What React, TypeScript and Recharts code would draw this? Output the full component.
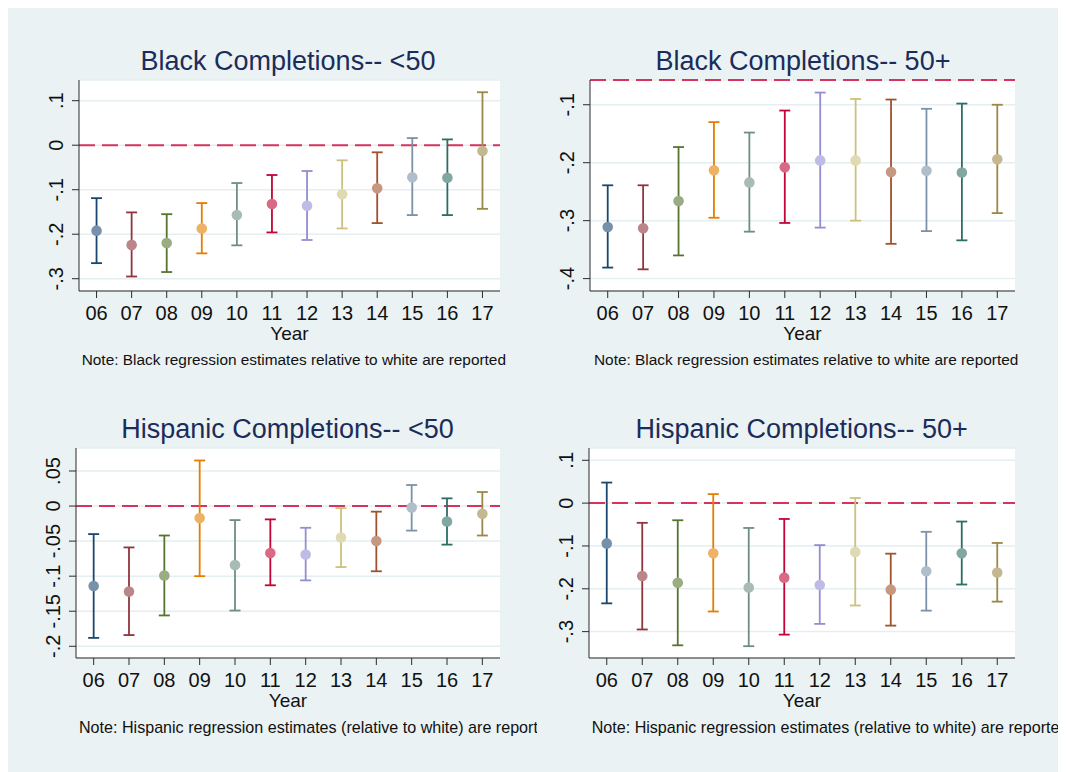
import React from 'react';
import { ComposedChart, Scatter, ErrorBar, XAxis, YAxis, CartesianGrid, ReferenceLine } from 'recharts';

// years on the x axis and their labels
const years = [6, 7, 8, 9, 10, 11, 12, 13, 14, 15, 16, 17];
const yearLabels = ['06', '07', '08', '09', '10', '11', '12', '13', '14', '15', '16', '17'];

// Black completions, <50
const blackU50Est = [-0.192, -0.224, -0.22, -0.187, -0.157, -0.132, -0.136, -0.11, -0.097, -0.072, -0.073, -0.013];
const blackU50Lo = [-0.265, -0.295, -0.285, -0.243, -0.225, -0.196, -0.213, -0.187, -0.175, -0.157, -0.157, -0.143];
const blackU50Hi = [-0.119, -0.151, -0.155, -0.13, -0.085, -0.067, -0.058, -0.034, -0.016, 0.016, 0.013, 0.119];

// Black completions, 50+
const black50Est = [-0.311, -0.313, -0.266, -0.213, -0.234, -0.208, -0.196, -0.196, -0.216, -0.214, -0.217, -0.194];
const black50Lo = [-0.381, -0.384, -0.36, -0.295, -0.319, -0.304, -0.312, -0.3, -0.34, -0.318, -0.334, -0.287];
const black50Hi = [-0.239, -0.239, -0.173, -0.13, -0.148, -0.11, -0.079, -0.09, -0.091, -0.107, -0.098, -0.1];

// Hispanic completions, <50
const hispU50Est = [-0.114, -0.122, -0.099, -0.017, -0.084, -0.067, -0.069, -0.045, -0.05, -0.002, -0.022, -0.011];
const hispU50Lo = [-0.188, -0.184, -0.156, -0.1, -0.149, -0.113, -0.106, -0.087, -0.093, -0.035, -0.055, -0.042];
const hispU50Hi = [-0.04, -0.059, -0.042, 0.065, -0.02, -0.019, -0.031, -0.003, -0.008, 0.03, 0.011, 0.02];

// Hispanic completions, 50+
const hisp50Est = [-0.094, -0.17, -0.186, -0.117, -0.197, -0.174, -0.191, -0.114, -0.202, -0.159, -0.117, -0.162];
const hisp50Lo = [-0.234, -0.295, -0.332, -0.253, -0.334, -0.307, -0.282, -0.239, -0.286, -0.251, -0.19, -0.23];
const hisp50Hi = [0.048, -0.046, -0.04, 0.021, -0.058, -0.037, -0.098, 0.012, -0.118, -0.067, -0.043, -0.093];

// Stata s2color palette
const colors = ['#1a476f', '#90353b', '#55752f', '#e37e00', '#6e8e84', '#c10534', '#938dd2', '#cac27e', '#a0522d', '#7b92a8', '#2d6d66', '#9c8847'];

const FONT = '"Liberation Sans", Arial, Helvetica, sans-serif';
const TITLE = '#1c2c5a';
const AXIS = '#2b2b2b';

const tint = (hex: string, a: number) => {
  const n = parseInt(hex.slice(1), 16);
  const mix = (c: number) => Math.round(c * a + 255 * (1 - a));
  return `rgb(${mix((n >> 16) & 255)},${mix((n >> 8) & 255)},${mix(n & 255)})`;
};

const fmtY = (v: number) => (v === 0 ? '0' : (v < 0 ? '-' : '') + String(Math.abs(v)).replace(/^0/, ''));

const panels = [
  {
    title: 'Black Completions-- <50',
    note: 'Note: Black regression estimates relative to white are reported',
    est: blackU50Est, lo: blackU50Lo, hi: blackU50Hi,
    yTicks: [-0.3, -0.2, -0.1, 0, 0.1], yDomain: [-0.3276, 0.1465],
    plot: { l: 71, r: 492, t: 72, b: 283 },
    titleX: 280, titleY: 62, noteX: 73.7, noteY: 357, noteSize: 15.4, noteClip: 1055,
  },
  {
    title: 'Black Completions-- 50+',
    note: 'Note: Black regression estimates relative to white are reported',
    est: black50Est, lo: black50Lo, hi: black50Hi,
    yTicks: [-0.4, -0.3, -0.2, -0.1], yDomain: [-0.4214, -0.0573],
    plot: { l: 582, r: 1007, t: 72, b: 283 },
    titleX: 795, titleY: 62, noteX: 586, noteY: 357, noteSize: 15.4, noteClip: 1055,
  },
  {
    title: 'Hispanic Completions-- <50',
    note: 'Note: Hispanic regression estimates (relative to white) are reported',
    est: hispU50Est, lo: hispU50Lo, hi: hispU50Hi,
    yTicks: [-0.2, -0.15, -0.1, -0.05, 0, 0.05], yDomain: [-0.2167, 0.0828],
    plot: { l: 68, r: 492, t: 440, b: 650 },
    titleX: 279.5, titleY: 430, noteX: 71, noteY: 725, noteSize: 16.1, noteClip: 529,
  },
  {
    title: 'Hispanic Completions-- 50+',
    note: 'Note: Hispanic regression estimates (relative to white) are reported',
    est: hisp50Est, lo: hisp50Lo, hi: hisp50Hi,
    yTicks: [-0.3, -0.2, -0.1, 0, 0.1], yDomain: [-0.3616, 0.1287],
    plot: { l: 581, r: 1007, t: 440, b: 650 },
    titleX: 793.7, titleY: 430, noteX: 583.7, noteY: 725, noteSize: 16.1, noteClip: 1055,
  },
];

const XTick = (props: any) => {
  const { x, y, payload } = props;
  const idx = years.indexOf(payload.value);
  return (
    <text x={x} y={y} dy={21.5} textAnchor="middle" fontSize={20} fontFamily={FONT} fill="#111">
      {yearLabels[idx]}
    </text>
  );
};

const YTick = (props: any) => {
  const { x, y, payload } = props;
  return (
    <text transform={`translate(${x - 9},${y}) rotate(-90)`} textAnchor="middle" fontSize={20} fontFamily={FONT} fill="#111">
      {fmtY(payload.value)}
    </text>
  );
};

const YAXIS_W = 60;
const XAXIS_H = 45;
const MT = 10;
const MR = 10;

const Panel = ({ p }: { p: (typeof panels)[number] }) => {
  const w = p.plot.r - p.plot.l + YAXIS_W + MR;
  const h = p.plot.b - p.plot.t + MT + XAXIS_H;
  const refY = Math.min(0, p.yDomain[1]);
  return (
    <div style={{ position: 'absolute', left: p.plot.l - YAXIS_W, top: p.plot.t - MT }}>
      <ComposedChart width={w} height={h} margin={{ top: MT, right: MR, bottom: 0, left: 0 }}>
        <CartesianGrid vertical={false} stroke="#e5eef1" strokeWidth={1.5} fill="#ffffff" />
        <XAxis
          type="number"
          dataKey="year"
          domain={[5.5, 17.5]}
          ticks={years}
          interval={0}
          allowDataOverflow
          height={XAXIS_H}
          tickSize={7}
          tickMargin={0}
          stroke={AXIS}
          tick={<XTick />}
        />
        <YAxis
          type="number"
          dataKey="est"
          domain={p.yDomain}
          ticks={p.yTicks}
          interval={0}
          allowDataOverflow
          width={YAXIS_W}
          tickSize={7}
          tickMargin={0}
          stroke={AXIS}
          tick={<YTick />}
        />
        <ReferenceLine y={refY} stroke="#d7335c" strokeWidth={2} strokeDasharray="16 7" ifOverflow="visible" />
        {years.map((yr, i) => (
          <Scatter
            key={yr}
            data={[{ year: yr, est: p.est[i], err: [p.est[i] - p.lo[i], p.hi[i] - p.est[i]] }]}
            dataKey="est"
            isAnimationActive={false}
            shape={(s: any) => <circle cx={s.cx} cy={s.cy} r={5.3} fill={tint(colors[i], 0.6)} />}
          >
            <ErrorBar dataKey="err" direction="y" width={5.5} stroke={colors[i]} strokeWidth={1.8} isAnimationActive={false} />
          </Scatter>
        ))}
      </ComposedChart>
    </div>
  );
};

export default function App() {
  return (
    <div style={{ position: 'relative', width: 1055, height: 764, background: '#eaf2f3', overflow: 'hidden', fontFamily: FONT }}>
      <style>{'html, body { overflow: hidden; }'}</style>
      {panels.map((p) => (
        <Panel key={p.title} p={p} />
      ))}
      <svg width={1055} height={764} style={{ position: 'absolute', left: 0, top: 0, pointerEvents: 'none' }}>
        <defs>
          {panels.map((p, i) => (
            <clipPath id={`noteClip${i}`} key={i}>
              <rect x={0} y={0} width={p.noteClip} height={764} />
            </clipPath>
          ))}
        </defs>
        {panels.map((p, i) => (
          <g key={p.title}>
            <text x={p.titleX} y={p.titleY} textAnchor="middle" fontSize={27} fontFamily={FONT} fill={TITLE}>
              {p.title}
            </text>
            <text x={(p.plot.l + p.plot.r) / 2} y={p.plot.b + 49} textAnchor="middle" fontSize={19} fontFamily={FONT} fill="#111">
              Year
            </text>
            <text x={p.noteX} y={p.noteY} fontSize={p.noteSize} fontFamily={FONT} fill="#111" clipPath={`url(#noteClip${i})`}>
              {p.note}
            </text>
          </g>
        ))}
      </svg>
    </div>
  );
}
